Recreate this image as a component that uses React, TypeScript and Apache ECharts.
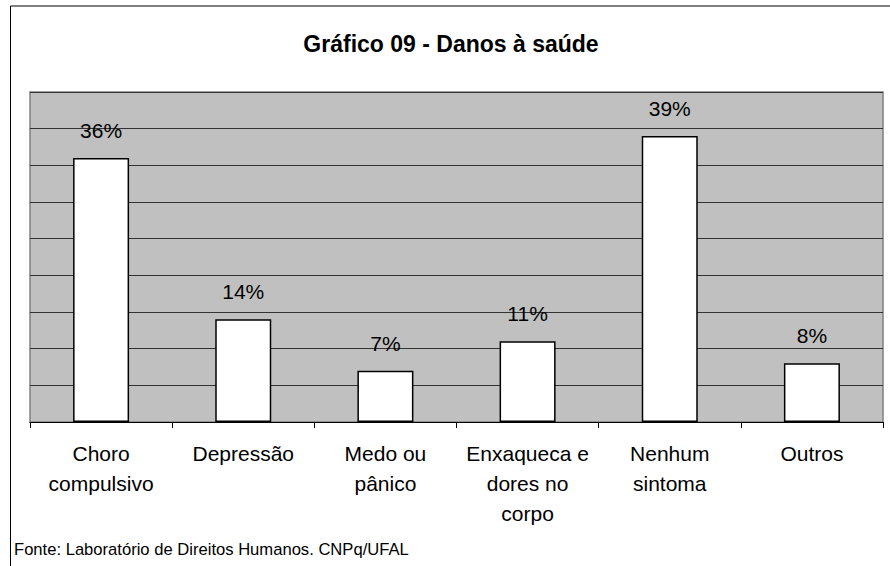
import React, { useEffect, useRef } from "react";
import * as echarts from "echarts";

const categories = [
  "Choro\ncompulsivo",
  "Depressão",
  "Medo ou\npânico",
  "Enxaqueca e\ndores no\ncorpo",
  "Nenhum\nsintoma",
  "Outros",
];
const values = [36, 14, 7, 11, 39, 8];
const titleText = "Gráfico 09 - Danos à saúde";
const sourceText = "Fonte: Laboratório de Direitos Humanos. CNPq/UFAL";

const FONT = "'Liberation Sans', Arial, sans-serif";

export default function App() {
  const ref = useRef<HTMLDivElement>(null);
  useEffect(() => {
    if (!ref.current) return;
    const chart = echarts.init(ref.current, undefined, { renderer: "svg" });
    chart.setOption({
      animation: false,
      backgroundColor: "#ffffff",
      textStyle: { fontFamily: FONT },
      grid: {
        left: 30,
        right: 7,
        top: 92,
        bottom: 144,
        show: true,
        backgroundColor: "#c0c0c0",
        borderColor: "#808080",
        borderWidth: 1.5,
      },
      xAxis: {
        type: "category",
        data: categories,
        axisLine: { show: true, lineStyle: { color: "#000000", width: 1 } },
        axisTick: { show: true, length: 6, lineStyle: { color: "#000000" } },
        axisLabel: {
          interval: 0,
          color: "#000000",
          fontSize: 21,
          lineHeight: 30,
          margin: 16,
          fontFamily: FONT,
        },
      },
      yAxis: {
        type: "value",
        min: 0,
        max: 45,
        interval: 5,
        axisLine: { show: false },
        axisTick: { show: false },
        axisLabel: { show: false },
        splitLine: { show: true, lineStyle: { color: "#333333", width: 1 } },
      },
      series: [
        {
          type: "bar",
          data: values,
          barWidth: 56,
          itemStyle: { color: "#ffffff", borderColor: "#000000", borderWidth: 1.5 },
          label: {
            show: true,
            position: "top",
            distance: 17,
            formatter: "{c}%",
            color: "#000000",
            fontSize: 21,
            fontFamily: FONT,
          },
        },
      ],
      graphic: [
        {
          type: "line",
          shape: { x1: 10.5, y1: 6, x2: 890, y2: 6 },
          style: { stroke: "#000000", lineWidth: 1 },
        },
        {
          type: "line",
          shape: { x1: 10.5, y1: 6, x2: 10.5, y2: 566 },
          style: { stroke: "#000000", lineWidth: 1 },
        },
        {
          type: "text",
          x: 451,
          y: 44,
          style: {
            text: titleText,
            fontSize: 23,
            fontWeight: "bold",
            fontFamily: FONT,
            fill: "#000000",
            align: "center",
            verticalAlign: "middle",
          },
        },
        {
          type: "text",
          x: 14,
          y: 549,
          style: {
            text: sourceText,
            fontSize: 16.6,
            fontFamily: FONT,
            fill: "#000000",
            align: "left",
            verticalAlign: "middle",
          },
        },
      ],
    });
    return () => chart.dispose();
  }, []);
  return (
    <div
      ref={ref}
      style={{ position: "absolute", left: 0, top: 0, width: 890, height: 566 }}
    />
  );
}
